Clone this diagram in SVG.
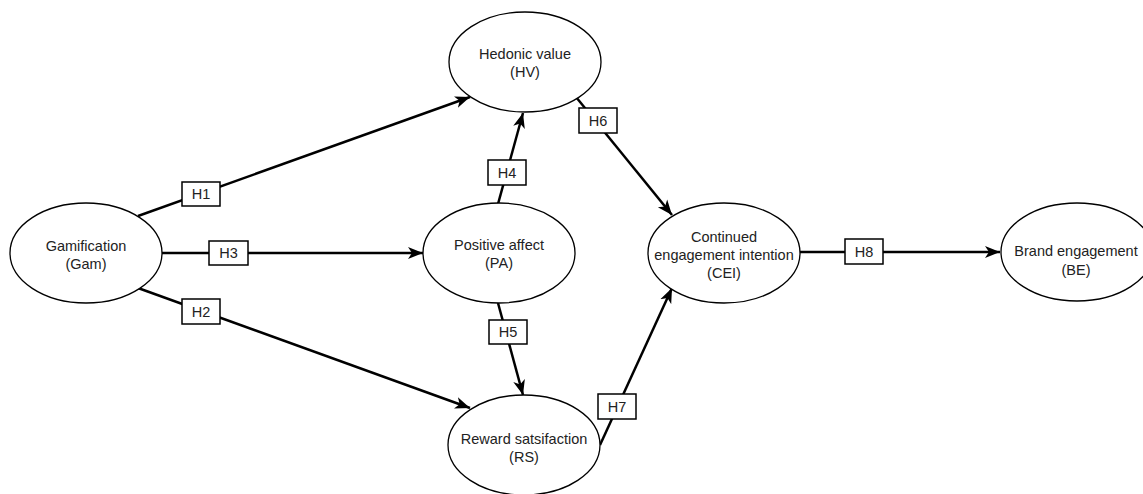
<svg xmlns="http://www.w3.org/2000/svg" width="1143" height="494" viewBox="0 0 1143 494">
<style>
.node ellipse{fill:#fff;stroke:#000;stroke-width:1.3}
.node text{font-family:"Liberation Sans",Arial,sans-serif;font-size:14.5px;fill:#222;text-anchor:middle}
.conn line{stroke:#000;stroke-width:2.5}
.lbl rect{fill:#fff;stroke:#000;stroke-width:1.5}
.lbl text{font-family:"Liberation Sans",Arial,sans-serif;font-size:14.5px;fill:#222;text-anchor:middle}
</style>
<defs>
<marker id="arr" markerUnits="userSpaceOnUse" markerWidth="16" markerHeight="14" refX="15" refY="6" orient="auto" viewBox="0 0 16 12">
<path d="M0,0 L15,6 L0,12 L4,6 z" fill="#000"/>
</marker>
</defs>
<rect width="1143" height="494" fill="#fff"/>
<g class="conn">
<line x1="138" y1="216" x2="470" y2="97" marker-end="url(#arr)"/>
<line x1="162" y1="253" x2="423" y2="253" marker-end="url(#arr)"/>
<line x1="138" y1="288" x2="470" y2="408" marker-end="url(#arr)"/>
<line x1="498" y1="204" x2="523" y2="113" marker-end="url(#arr)"/>
<line x1="498" y1="303" x2="523" y2="395" marker-end="url(#arr)"/>
<line x1="576" y1="97" x2="672" y2="215" marker-end="url(#arr)"/>
<line x1="600" y1="445" x2="672" y2="288" marker-end="url(#arr)"/>
<line x1="800" y1="252" x2="1000" y2="252" marker-end="url(#arr)"/>
</g>
<g class="lbl">
<g id="H1"><rect x="182" y="182" width="38" height="24"/><text x="201" y="199">H1</text></g>
<g id="H3"><rect x="209" y="241" width="39" height="24"/><text x="228.5" y="258">H3</text></g>
<g id="H2"><rect x="182" y="299" width="38" height="25"/><text x="201" y="316.5">H2</text></g>
<g id="H4"><rect x="488" y="160" width="38" height="25"/><text x="507" y="177.5">H4</text></g>
<g id="H5"><rect x="489" y="320" width="38" height="24"/><text x="508" y="337">H5</text></g>
<g id="H6"><rect x="579" y="108" width="38" height="25"/><text x="598" y="125.5">H6</text></g>
<g id="H7"><rect x="598" y="394" width="38" height="25"/><text x="617" y="411.5">H7</text></g>
<g id="H8"><rect x="845" y="239" width="38" height="25"/><text x="864" y="256.5">H8</text></g>
</g>
<g id="Gam" class="node"><ellipse cx="86" cy="253" rx="76" ry="50"/><text x="86" y="251">Gamification</text><text x="86" y="269">(Gam)</text></g>
<g id="HV" class="node"><ellipse cx="525" cy="62" rx="76" ry="50"/><text x="525" y="59">Hedonic value</text><text x="525" y="77">(HV)</text></g>
<g id="PA" class="node"><ellipse cx="499" cy="253" rx="76" ry="50"/><text x="499" y="250">Positive affect</text><text x="499" y="268">(PA)</text></g>
<g id="RS" class="node"><ellipse cx="524" cy="445" rx="76" ry="50"/><text x="524" y="444">Reward satsifaction</text><text x="524" y="462">(RS)</text></g>
<g id="CEI" class="node"><ellipse cx="724" cy="253" rx="76" ry="50"/><text x="724" y="242">Continued</text><text x="724" y="260">engagement intention</text><text x="724" y="278">(CEI)</text></g>
<g id="BE" class="node"><ellipse cx="1077" cy="252" rx="76" ry="49"/><text x="1076" y="256">Brand engagement</text><text x="1076" y="275">(BE)</text></g>
</svg>
